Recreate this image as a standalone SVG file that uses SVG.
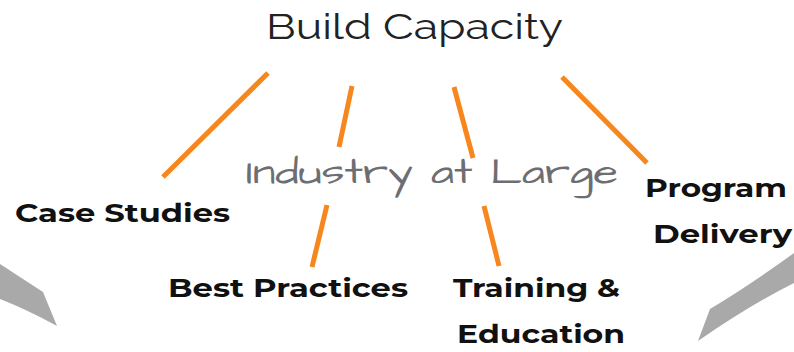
<svg xmlns="http://www.w3.org/2000/svg" width="794" height="352" viewBox="0 0 794 352">
  <style>
    .title { font-family: "Raleway", "Lato", "Open Sans", sans-serif; font-weight: 400; font-size: 36px; fill: #222222; }
    .hub { font-family: "Architects Daughter", "Open Sans", "DejaVu Sans", sans-serif; font-weight: 300; font-size: 36px; fill: #6d6e71; }
    .label { font-family: "Montserrat", "Open Sans", "Liberation Sans", sans-serif; font-weight: 700; font-size: 26px; fill: #111111; }
    .spoke { stroke: #f7861c; stroke-width: 5; stroke-linecap: butt; fill: none; }
    .swoosh { fill: #a9a9a9; }
  </style>

  <!-- grey swoosh ends at the bottom corners -->
  <path class="swoosh" d="M0,264 L43,292 L57,326 Q28,310 0,299 Z"/>
  <path class="swoosh" d="M794,253 Q750,285 710,309 L698,341 Q750,305 794,283 Z"/>

  <!-- connectors -->
  <g id="connectors">
    <line class="spoke" x1="268" y1="73" x2="163" y2="177"/>
    <line class="spoke" x1="352" y1="86" x2="339" y2="147"/>
    <line class="spoke" x1="454" y1="87" x2="473" y2="158"/>
    <line class="spoke" x1="562" y1="77" x2="647" y2="163"/>
    <line class="spoke" x1="327" y1="205" x2="312" y2="267"/>
    <line class="spoke" x1="484" y1="206" x2="499" y2="266"/>
  </g>

  <g id="build-capacity">
    <text class="title" x="266" y="39" textLength="297" lengthAdjust="spacingAndGlyphs">Build Capacity</text>
  </g>

  <g id="industry-at-large">
    <text class="hub" x="246" y="183" textLength="372" lengthAdjust="spacingAndGlyphs">Industry at Large</text>
  </g>

  <g id="case-studies">
    <text class="label" x="15" y="222" textLength="215" lengthAdjust="spacingAndGlyphs">Case Studies</text>
  </g>

  <g id="best-practices">
    <text class="label" x="168" y="297" textLength="240" lengthAdjust="spacingAndGlyphs">Best Practices</text>
  </g>

  <g id="training-education">
    <text class="label" x="453" y="297" textLength="167" lengthAdjust="spacingAndGlyphs">Training &amp;</text>
    <text class="label" x="457" y="343" textLength="168" lengthAdjust="spacingAndGlyphs">Education</text>
  </g>

  <g id="program-delivery">
    <text class="label" x="645" y="197" textLength="142" lengthAdjust="spacingAndGlyphs">Program</text>
    <text class="label" x="653" y="243" textLength="139" lengthAdjust="spacingAndGlyphs">Delivery</text>
  </g>
</svg>
